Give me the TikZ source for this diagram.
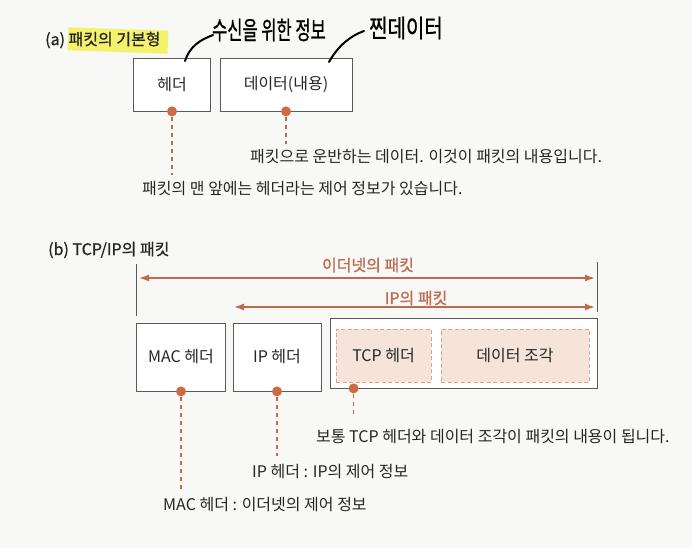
\documentclass[tikz,border=0pt]{standalone}
\usepackage{fontspec}
\setmainfont{Noto Sans CJK KR}
\newfontfamily\semibold[FakeBold=0.9]{Noto Sans CJK KR}
\usetikzlibrary{arrows.meta,calc}
\definecolor{paper}{HTML}{F8F8F6}
\definecolor{rust}{HTML}{C06A4C}
\definecolor{dotc}{HTML}{CD6B43}
\definecolor{peach}{HTML}{F6E4DA}
\definecolor{peachline}{HTML}{D9A391}
\definecolor{boxline}{HTML}{5A5A5A}
\definecolor{hilite}{HTML}{F4F26C}
\tikzset{
  box/.style={draw=boxline, line width=0.8pt, fill=white, inner sep=0pt, font=\fontsize{16}{18}\selectfont, text=black!85},
  inbox/.style={draw=peachline, dashed, dash pattern=on 4pt off 2.5pt, line width=0.8pt, fill=peach, inner sep=0pt, font=\fontsize{16}{18}\selectfont, text=black!85},
  pin/.style={circle, fill=dotc, minimum size=10pt, inner sep=0pt},
  lead/.style={draw=rust, line width=1.6pt, dash pattern=on 4pt off 4pt},
  note/.style={anchor=west, inner sep=0pt, font=\fontsize{16}{18}\selectfont, text=black!85},
  span/.style={draw=rust, line width=1.5pt, {Latex[length=10pt,width=7pt]}-{Latex[length=10pt,width=7pt]}},
  spanlbl/.style={text=rust, font=\semibold\fontsize{16}{18}\selectfont, inner sep=0pt},
  title/.style={anchor=west, inner sep=0pt, font=\semibold\fontsize{16}{18}\selectfont, text=black!85},
  hand/.style={anchor=west, inner sep=0pt, font=\semibold\fontsize{25}{27}\selectfont, text=black},
  handline/.style={draw=black, line width=2pt, line cap=round},
  tick/.style={draw=boxline, line width=0.8pt}
}
\begin{document}
\begin{tikzpicture}[x=1pt,y=-1pt]
\fill[paper] (0,0) rectangle (692,548);
\useasboundingbox (0,0) rectangle (692,548);

% ---------- (a) ----------
\fill[hilite, rotate around={-2:(117,40)}] (68,29) rectangle (168,52);
\node[title] (ta) at (45,40) {(a) 패킷의 기본형};

\node[box, minimum width=77pt, minimum height=53pt] (hdr) at (172,84.5) {헤더};
\node[box, minimum width=132pt, minimum height=53pt] (dat) at (286,84.5) {데이터(내용)};

\node[pin] (p1) at (hdr.south) {};
\node[pin] (p2) at (dat.south) {};

\node[note] (n2) at (250,157) {패킷으로 운반하는 데이터. 이것이 패킷의 내용입니다.};
\node[note] (n1) at (142,189) {패킷의 맨 앞에는 헤더라는 제어 정보가 있습니다.};

\draw[lead] (p1) -- ($(p1 |- n1.north)+(0,-7)$);
\draw[lead] (p2) -- ($(p2 |- n2.north)+(0,-6)$);

% handwriting
\node[hand, xscale=0.66] (h1) at (212,30) {수신을 위한 정보};
\node[hand, xscale=0.8] (h2) at (369,28) {찐데이터};
\coordinate (h1s) at (185,61);
\coordinate (h2s) at (329,62);
\draw[handline] (h1s) .. controls (190,46) and (200,40) .. ($(h1.west)+(1,5)$);
\draw[handline] (h2s) .. controls (338,46) and (350,36) .. ($(h2.west)+(-5,3)$);

% ---------- (b) ----------
\node[title] (tb) at (48,250) {(b) TCP/IP의 패킷};

\coordinate (lt) at (136,264);
\coordinate (lb) at (136,316);
\coordinate (rt) at (597,262);
\coordinate (rb) at (597,312);
\draw[tick] (lt) -- (lb);
\draw[tick] (rt) -- (rb);

\coordinate (e1) at (139,278);
\coordinate (e2) at (595,278);
\draw[span] (e1) -- (e2);
\node[spanlbl] (el) at (368,265) {이더넷의 패킷};

\coordinate (i1) at (234,307);
\coordinate (i2) at (595,307);
\draw[span] (i1) -- (i2);
\node[spanlbl] (il) at (416,298) {IP의 패킷};

\node[box, minimum width=89pt, minimum height=68pt] (mac) at (181,357) {MAC 헤더};
\node[box, minimum width=88pt, minimum height=68pt] (ip) at (277,357) {IP 헤더};
\node[box, minimum width=267pt, minimum height=70pt] (outer) at (463.5,353) {};
\node[inbox, minimum width=95pt, minimum height=53pt] (tcp) at (383.5,355.5) {TCP 헤더};
\node[inbox, minimum width=148pt, minimum height=53pt] (chunk) at (515,355.5) {데이터 조각};

\node[pin] (p3) at (mac.south) {};
\node[pin] (p4) at (ip.south) {};
\node[pin] (p5) at ($(outer.south west)+(24,0)$) {};

\node[note] (n5) at (316,437) {보통 TCP 헤더와 데이터 조각이 패킷의 내용이 됩니다.};
\node[note] (n4) at (252,472) {IP 헤더 : IP의 제어 정보};
\node[note] (n3) at (163,505) {MAC 헤더 : 이더넷의 제어 정보};

\draw[lead] (p3) -- ($(p3 |- n3.north)+(0,-9)$);
\draw[lead] (p4) -- ($(p4 |- n4.north)+(0,-9)$);
\draw[lead] (p5) -- ($(p5 |- n5.north)+(0,-14)$);
\end{tikzpicture}
\end{document}
